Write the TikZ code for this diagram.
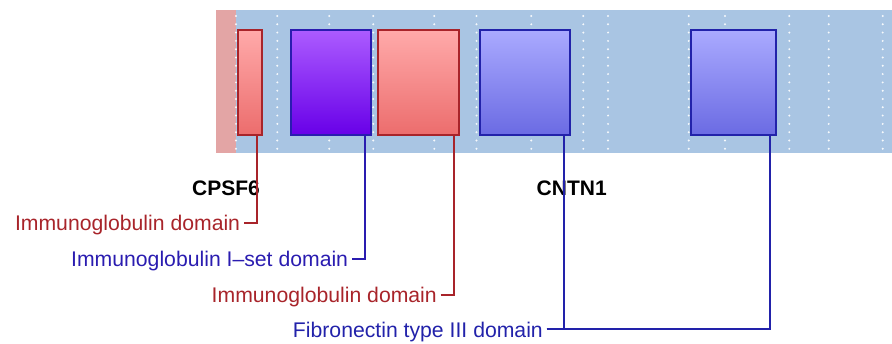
\documentclass[tikz,border=0pt]{standalone}
\usepackage{fontspec}
\setmainfont{Liberation Sans}
\usepackage{xcolor}
\usetikzlibrary{calc,positioning}
\definecolor{TrackBlue}{HTML}{A9C5E3}
\definecolor{TrackPink}{HTML}{E3A5A5}
\definecolor{IgRed}{HTML}{A8242A}
\definecolor{IsetBlue}{HTML}{2A1CB0}
\definecolor{FnBlue}{HTML}{2222AA}
\definecolor{IgTop}{HTML}{FFAAAA}
\definecolor{IgBottom}{HTML}{EC6D6D}
\definecolor{IsetTop}{HTML}{AC5CFF}
\definecolor{IsetBottom}{HTML}{6800E8}
\definecolor{FnTop}{HTML}{AAAAFF}
\definecolor{FnBottom}{HTML}{6B6BE3}

\begin{document}
\begin{tikzpicture}[
    x=1pt, y=-1pt,
    dom/.style={anchor=north west, minimum height=105pt, inner sep=0pt,
      line width=2pt},
    igbox/.style={dom, draw=IgRed, top color=IgTop, bottom color=IgBottom},
    isetbox/.style={dom, draw=IsetBlue, top color=IsetTop, bottom color=IsetBottom},
    fnbox/.style={dom, draw=FnBlue, top color=FnTop, bottom color=FnBottom},
    lbl/.style={anchor=east, inner xsep=3.7pt, inner ysep=0pt, text height=15.5pt,
      text depth=0pt, font=\fontsize{21.2}{25}\selectfont},
    gene/.style={font=\fontsize{21}{25}\selectfont\bfseries, text=black},
    conn/.style={line width=2pt}
  ]
    \useasboundingbox (0,0) rectangle (892,344);
    % track
    \fill[TrackBlue] (216,10) rectangle (892,153);
    \fill[TrackPink] (216,10) rectangle (236,153);
    \foreach \dx in {236,277.3,329.3,373.3,434.3,476.5,531.3,583.3,608,688.7,725,789.3,828.7,882.7}
      \foreach \k in {0,...,16}
        \fill[white, opacity=0.9] (\dx,16+8.3*\k) circle (1.1);
    % domains
    \node[igbox, minimum width=24pt] (ig1) at (237,28.7) {};
    \node[isetbox, minimum width=80pt] (iset) at (289.7,28.7) {};
    \node[igbox, minimum width=81.3pt] (ig2) at (377,28.7) {};
    \node[fnbox, minimum width=89.4pt] (fn1) at (479.3,28.7) {};
    \node[fnbox, minimum width=84.4pt] (fn2) at (690.3,28.7) {};
    \coordinate (f1) at ($(ig1.south east)+(-6.4,0)$);
    \coordinate (f2) at ($(iset.south east)+(-6.4,0)$);
    \coordinate (f3) at ($(ig2.south east)+(-6.4,0)$);
    \coordinate (f4) at ($(fn1.south east)+(-6.4,0)$);
    \coordinate (f5) at ($(fn2.south east)+(-6.4,0)$);
    % genes
    \node[gene] (cpsf) at (226,188.3) {CPSF6};
    \node[gene] (cntn) at (571.7,188.3) {CNTN1};
    % labels
    \node[lbl, text=IgRed] (lab1) at (244,222.7) {Immunoglobulin domain};
    \node[lbl, text=IsetBlue] (lab2) at (352,258.7) {Immunoglobulin I–set domain};
    \node[lbl, text=IgRed] (lab3) at (440.7,294.7) {Immunoglobulin domain};
    \node[lbl, text=FnBlue] (lab4) at (546.7,329.3) {Fibronectin type III domain};
    \draw[conn, IgRed] (lab1.east) -| (f1);
    \draw[conn, IsetBlue] (lab2.east) -| (f2);
    \draw[conn, IgRed] (lab3.east) -| (f3);
    \draw[conn, FnBlue] (lab4.east) -| (f4);
    \draw[conn, FnBlue] (lab4.east) -| (f5);
  \end{tikzpicture}
\end{document}
